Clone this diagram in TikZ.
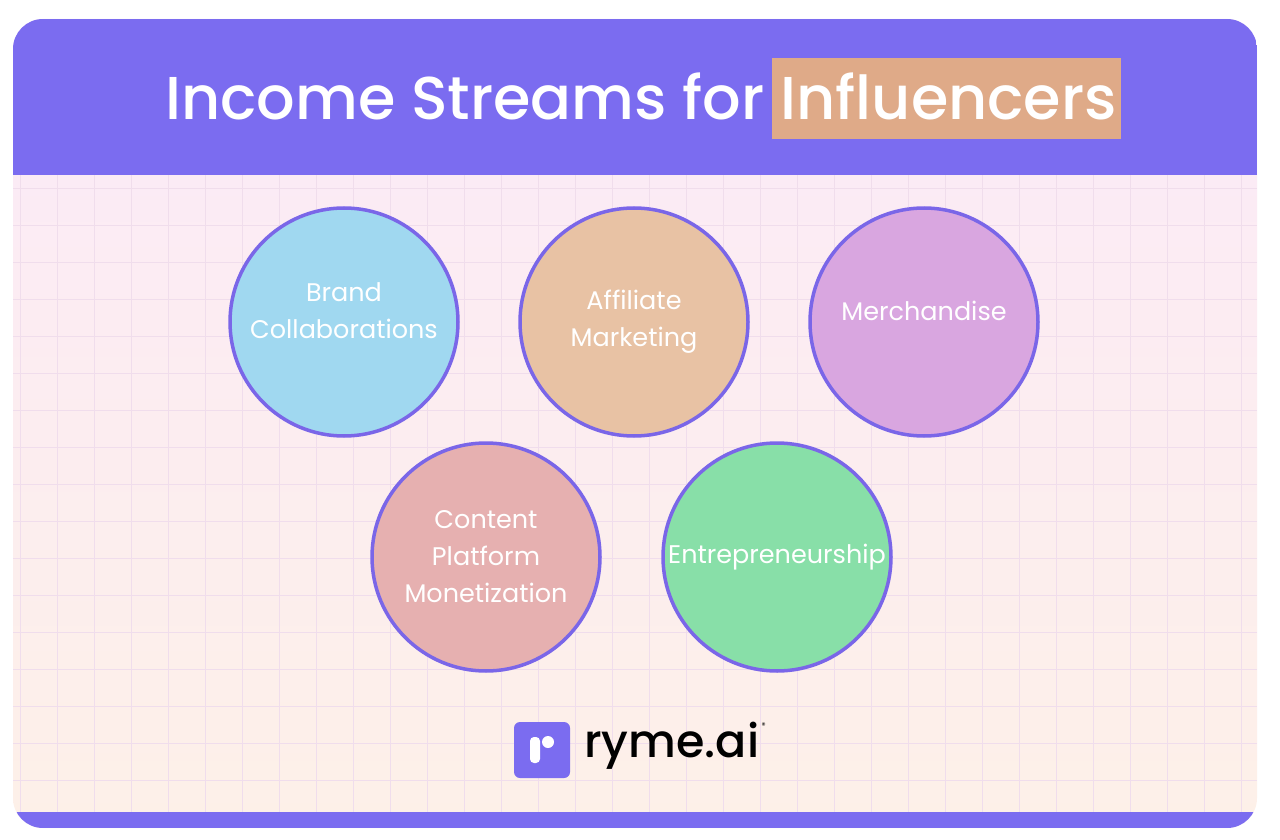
\documentclass[tikz,border=0pt]{standalone}
\usepackage{fontspec}
\setmainfont{Poppins}
\definecolor{headpurple}{HTML}{7B6CF0}
\definecolor{rimpurple}{HTML}{7A66E8}
\definecolor{hilite}{HTML}{DFAA88}
\definecolor{bgtop}{HTML}{FBEAF8}
\definecolor{bgbot}{HTML}{FDF0E8}
\definecolor{gridpink}{HTML}{F0DDEC}
\definecolor{cblue}{HTML}{A0D8F0}
\definecolor{cpeach}{HTML}{E8C2A4}
\definecolor{clilac}{HTML}{D9A6E0}
\definecolor{crose}{HTML}{E6B0B0}
\definecolor{cgreen}{HTML}{88DFA8}
\tikzset{
  stream/.style={circle, draw=rimpurple, line width=3.5pt, minimum size=228pt,
    inner sep=0pt, text=white, align=center, font=\fontsize{25.5}{37}\selectfont}
}
\begin{document}
\begin{tikzpicture}[x=1pt,y=-1pt]
    \useasboundingbox (0,0) rectangle (1280,840);
    \fill[white] (0,0) rectangle (1280,840);

    % card body and grid
    \begin{scope}
      \clip[rounded corners=30pt] (13,19) rectangle (1257,828);
      \shade[top color=bgtop, bottom color=bgbot] (13,19) rectangle (1257,828);
      \foreach \gx in {20,57,...,1257} \draw[gridpink, line width=0.8pt] (\gx,175) -- (\gx,812);
      \foreach \gy in {188,225,...,812} \draw[gridpink, line width=0.8pt] (13,\gy) -- (1257,\gy);
      \fill[headpurple] (13,19) rectangle (1257,175);
      \fill[headpurple] (13,812) rectangle (1257,828);
    \end{scope}

    % title
    \fill[hilite] (772,58) rectangle (1121,139);
    \node[text=white, font=\fontsize{60.5}{61}\fontspec{Poppins Medium}, anchor=base] (title) at (641,120)
      {Income Streams for Influencers};

    % the five streams
    \node[stream, fill=cblue] (brand) at (344,322) {Brand\\Collaborations\\[-14pt]};
    \node[stream, fill=cpeach] (affiliate) at (634,322) {Affiliate\\Marketing};
    \node[stream, fill=clilac] (merch) at (924,322) {Merchandise\\[-14pt]};
    \node[stream, fill=crose] (content) at (486,557) {Content\\Platform\\Monetization};
    \node[stream, fill=cgreen] (entre) at (777,557) {Entrepreneurship};

    % logo
    \fill[headpurple, rounded corners=6pt] (514,722) rectangle (570,778);
    \fill[white, rounded corners=4pt] (530,737) rectangle (540,763);
    \fill[white] (548,742) circle (6);
    \node[anchor=west, font=\fontsize{46}{46}\fontspec{Poppins Medium}, inner sep=0pt] (logo) at (584,746) {ryme.ai};
    \node[anchor=west, font=\fontsize{8}{8}\selectfont, inner sep=0pt] (reg) at ([xshift=2pt,yshift=-4pt]logo.north east) {®};
\end{tikzpicture}
\end{document}
